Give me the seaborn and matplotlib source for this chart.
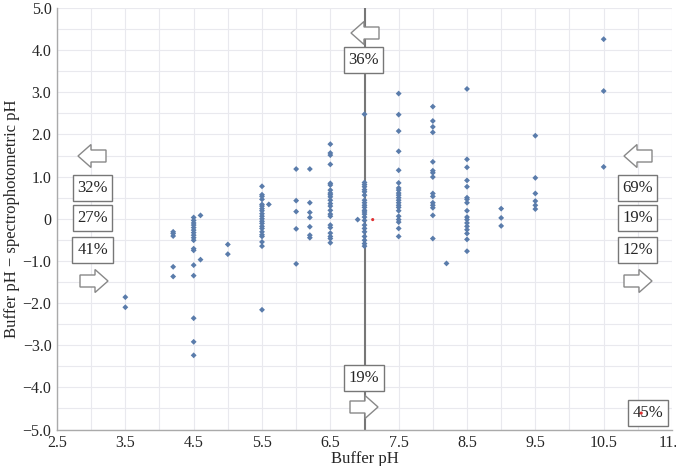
import matplotlib
matplotlib.use("Agg")
import matplotlib.pyplot as plt
from matplotlib.patches import FancyArrow
import seaborn as sns
import pandas as pd

# ---- data ----
y_35 = [-1.86, -2.10]
y_42 = [-0.31, -0.35, -0.41, -1.14, -1.37]
y_45 = [0.03, -0.04, -0.10, -0.15, -0.21, -0.27, -0.33, -0.39, -0.45, -0.51,
        -0.71, -0.75, -1.10, -1.35, -2.36, -2.92, -3.24]
y_46 = [0.08, -0.97]
y_50 = [-0.61, -0.84]
y_55 = [0.77, 0.57, 0.53, 0.46, 0.34, 0.30, 0.24, 0.19, 0.12, 0.06, 0.00, -0.06,
        -0.11, -0.18, -0.23, -0.31, -0.38, -0.42, -0.55, -0.65, -2.16]
y_56 = [0.34]
y_60 = [1.18, 0.43, 0.17, -0.24, -1.07]
y_62 = [1.18, 0.38, 0.15, 0.03, -0.19, -0.39, -0.45]
y_65 = [1.77, 1.56, 1.51, 1.29, 0.84, 0.80, 0.68, 0.61, 0.57, 0.52, 0.44, 0.36,
        0.30, 0.20, 0.11, 0.06, -0.15, -0.21, -0.34, -0.42, -0.47, -0.57]
y_69 = [-0.02]
y_70 = [2.48, 0.86, 0.81, 0.76, 0.69, 0.64, 0.56, 0.44, 0.38, 0.32, 0.27, 0.20,
        0.16, 0.11, 0.04, -0.04, -0.15, -0.23, -0.31, -0.42, -0.51, -0.59, -0.65]
y_75 = [2.97, 2.47, 2.08, 1.60, 1.15, 0.85, 0.73, 0.68, 0.61, 0.56, 0.50, 0.44,
        0.38, 0.32, 0.27, 0.19, 0.06, -0.02, -0.08, -0.23, -0.42]
y_80 = [2.66, 2.32, 2.18, 2.05, 1.35, 1.14, 1.09, 0.99, 0.60, 0.53, 0.38, 0.32,
        0.26, 0.08, -0.47]
y_82 = [-1.06]
y_85 = [3.08, 1.41, 1.22, 0.91, 0.76, 0.50, 0.46, 0.38, 0.19, 0.04, -0.02, -0.10,
        -0.18, -0.26, -0.35, -0.49, -0.77]
y_90 = [0.24, 0.02, -0.17]
y_95 = [1.97, 0.97, 0.60, 0.42, 0.32, 0.23]
y_105 = [4.26, 3.03, 1.23]

buffer_levels = [3.5, 4.2, 4.5, 4.6, 5.0, 5.5, 5.6, 6.0, 6.2, 6.5, 6.9, 7.0,
                 7.5, 8.0, 8.2, 8.5, 9.0, 9.5, 10.5]
diff_columns = [y_35, y_42, y_45, y_46, y_50, y_55, y_56, y_60, y_62, y_65, y_69,
                y_70, y_75, y_80, y_82, y_85, y_90, y_95, y_105]

red_x = [7.12, 11.05]
red_y = [-0.02, -4.61]

x_ticks = [2.5, 3.5, 4.5, 5.5, 6.5, 7.5, 8.5, 9.5, 10.5, 11.5]
x_tick_labels = ["2.5", "3.5", "4.5", "5.5", "6.5", "7.5", "8.5", "9.5", "10.5", "11.5"]
y_ticks = [5, 4, 3, 2, 1, 0, -1, -2, -3, -4, -5]
y_tick_labels = ["5.0", "4.0", "3.0", "2.0", "1.0", "0", "\u22121.0", "\u22122.0",
                 "\u22123.0", "\u22124.0", "\u22125.0"]

left_pcts = ["32%", "27%", "41%"]
right_pcts = ["69%", "19%", "12%"]
top_pct = "36%"
bottom_pct = "19%"
corner_pct = "45%"

rows = []
for xv, col in zip(buffer_levels, diff_columns):
    for yv in col:
        rows.append((xv, yv))
df = pd.DataFrame(rows, columns=["buffer", "diff"])
df_red = pd.DataFrame({"buffer": red_x, "diff": red_y})

# ---- figure ----
sns.set_style("white")
plt.rcParams["font.family"] = ["Liberation Serif", "DejaVu Serif"]

W, H = 676, 466
fig = plt.figure(figsize=(W / 100, H / 100), dpi=100)
L, R, T, B = 57, 672, 8, 429.5
ax = fig.add_axes([L / W, (H - B) / H, (R - L) / W, (B - T) / H])

ax.set_xlim(2.5, 11.5)
ax.set_ylim(-5, 5)

# grid every 0.5
for gx in [2.5 + 0.5 * i for i in range(19)]:
    ax.axvline(gx, color="#e9e9ee", lw=0.8, zorder=0)
for gy in [-5 + 0.5 * i for i in range(21)]:
    ax.axhline(gy, color="#e9e9ee", lw=0.8, zorder=0)

ax.axvline(7.0, color="#777777", lw=1.5, zorder=1)

sns.scatterplot(data=df, x="buffer", y="diff", ax=ax, marker="D", s=9,
                color="#5a7cab", edgecolor="none", linewidth=0, zorder=3)
sns.scatterplot(data=df_red, x="buffer", y="diff", ax=ax, marker="o", s=5,
                color="#e03030", edgecolor="none", linewidth=0, zorder=9)

ax.set_xticks(x_ticks)
ax.set_xticklabels(x_tick_labels, fontsize=11.5)
ax.set_yticks(y_ticks)
ax.set_yticklabels(y_tick_labels, fontsize=11.5)
ax.tick_params(axis="both", length=3, color="#999999", direction="out", pad=1)
for s in ["top", "right"]:
    ax.spines[s].set_visible(False)
for s in ["left", "bottom"]:
    ax.spines[s].set_color("#aaaaaa")
    ax.spines[s].set_linewidth(1.0)

ax.set_xlabel("Buffer pH", fontsize=12, labelpad=0)
ax.set_ylabel("Buffer pH \u2212 spectrophotometric pH", fontsize=12, labelpad=2)


def fx(px):
    return (px - L) / (R - L)


def fy(py):
    return (B - py) / (B - T)


def arrow(tip_px, cy_px, direction):
    length = 28
    tail = tip_px + length if direction == "left" else tip_px - length
    dx = fx(tip_px) - fx(tail)
    a = FancyArrow(fx(tail), fy(cy_px), dx, 0, width=12 / (B - T),
                   head_width=23 / (B - T), head_length=13 / (R - L),
                   length_includes_head=True, transform=ax.transAxes,
                   facecolor="white", edgecolor="#888888", linewidth=1.0,
                   zorder=7, clip_on=False)
    ax.add_patch(a)


def box(cx_px, cy_px, txt):
    ax.text(fx(cx_px), fy(cy_px), txt, transform=ax.transAxes, ha="center",
            va="center", fontsize=12, zorder=8,
            bbox=dict(boxstyle="square,pad=0.28", facecolor="white",
                      edgecolor="#777777", linewidth=1.0))


# top
arrow(351, 33, "left")
box(363.5, 60, top_pct)
# left group
arrow(78, 156, "left")
for cy, t in zip([188, 218, 250], left_pcts):
    box(92.5, cy, t)
arrow(108, 281, "right")
# right group
arrow(624, 156, "left")
for cy, t in zip([188, 218, 250], right_pcts):
    box(637.5, cy, t)
arrow(652, 281, "right")
# bottom
box(364, 378, bottom_pct)
arrow(378, 407, "right")
box(648, 413, corner_pct)

fig.savefig("out.png", dpi=100)
